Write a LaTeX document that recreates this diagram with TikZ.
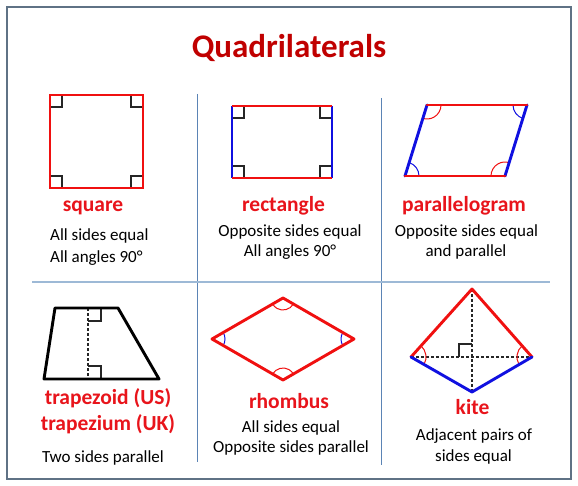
\documentclass[tikz,border=0pt]{standalone}
\usepackage{fontspec}
\setmainfont{Carlito}
\definecolor{titlered}{HTML}{C00000}
\definecolor{labred}{HTML}{E8141B}
\definecolor{shred}{HTML}{F01010}
\definecolor{shblue}{HTML}{1010E0}
\definecolor{frame}{HTML}{5F7285}
\definecolor{divv}{HTML}{5B84B5}
\definecolor{divh}{HTML}{9DB9D6}
\tikzset{
  body/.style={font=\fontsize{17}{21}\selectfont, anchor=base, inner sep=0pt, text=black},
  lab/.style={font=\fontsize{21.5}{26}\selectfont\bfseries, anchor=base, inner sep=0pt, text=labred},
  redline/.style={draw=shred, line width=2.9pt, line cap=round, line join=round},
  blueline/.style={draw=shblue, line width=2.9pt, line cap=round, line join=round},
  blackline/.style={draw=black, line width=2.9pt, line join=round},
  rmark/.style={draw=black!85, line width=1.2pt},
  dashl/.style={draw=black!85, line width=1.2pt, dash pattern=on 3pt off 2pt},
  redarc/.style={draw=shred, line width=1pt},
  bluearc/.style={draw=shblue, line width=1pt}
}
\begin{document}
\begin{tikzpicture}[x=1pt,y=-1pt]
\useasboundingbox (0,0) rectangle (578,486);
% frame and dividers
\draw[frame, line width=1.5pt] (7,7) rectangle (571,479);
\draw[divv, line width=0.8pt] (197,94) -- (197,462);
\draw[divv, line width=0.8pt] (381,98) -- (381,465);
\draw[divh, line width=1.2pt] (32,282) -- (550,282);
% title
\node[anchor=base, inner sep=0pt, font=\fontsize{33}{40}\selectfont\bfseries, text=titlered] (title) at (289,58) {Quadrilaterals};

% square
\draw[rmark] (50,107) -- (62,107) -- (62,95);
\draw[rmark] (143,107) -- (131,107) -- (131,95);
\draw[rmark] (50,176) -- (62,176) -- (62,188);
\draw[rmark] (143,176) -- (131,176) -- (131,188);
\draw[redline, line cap=butt, line join=miter] (50,95) rectangle (143,188);
\node[lab] (sqlab) at (93,212) {square};
\node[body, anchor=base west] (sq1) at (50,241) {All sides equal};
\node[body, anchor=base west] (sq2) at (50,262) {All angles 90°};

% rectangle
\draw[rmark] (232,118) -- (244,118) -- (244,106);
\draw[rmark] (332,118) -- (320,118) -- (320,106);
\draw[rmark] (232,166) -- (244,166) -- (244,178);
\draw[rmark] (332,166) -- (320,166) -- (320,178);
\draw[blueline, line cap=butt] (232,106) -- (232,178);
\draw[blueline, line cap=butt] (332,106) -- (332,178);
\draw[redline, line cap=butt] (232,106) -- (332,106);
\draw[redline, line cap=butt] (232,178) -- (332,178);
\node[lab] (relab) at (283.5,212) {rectangle};
\node[body] (re1) at (290,237) {Opposite sides equal};
\node[body] (re2) at (290,257) {All angles 90°};

% parallelogram
\draw[redarc] (427,105) ++(0:14) arc[start angle=0, end angle=107.2, radius=14];
\draw[bluearc] (527,105) ++(107.2:14) arc[start angle=107.2, end angle=180, radius=14];
\draw[redarc] (505,176) ++(180:14) arc[start angle=180, end angle=287.2, radius=14];
\draw[bluearc] (405,176) ++(287.2:14) arc[start angle=287.2, end angle=360, radius=14];
\draw[blueline] (427,105) -- (405,176);
\draw[blueline] (527,105) -- (505,176);
\draw[redline] (427,105) -- (527,105);
\draw[redline] (405,176) -- (505,176);
\node[lab] (palab) at (464,212) {parallelogram};
\node[body] (pa1) at (466.5,237) {Opposite sides equal};
\node[body] (pa2) at (466,257) {and parallel};

% trapezoid
\draw[dashl] (88,308) -- (88,379);
\draw[rmark] (88,321) -- (101,321) -- (101,308);
\draw[rmark] (88,366) -- (101,366) -- (101,379);
\draw[blackline] (55,308) -- (118,308) -- (159,379) -- (44,379) -- cycle;
\node[lab] (trlab1) at (108,404) {trapezoid (US)};
\node[lab] (trlab2) at (108,430) {trapezium (UK)};
\node[body] (tr1) at (103,462) {Two sides parallel};

% rhombus
\draw[redarc] (283,298) ++(30:12) arc[start angle=30, end angle=150, radius=12];
\draw[redarc] (283,380) ++(210:12) arc[start angle=210, end angle=330, radius=12];
\draw[bluearc] (212,339) ++(-30:13) arc[start angle=-30, end angle=30, radius=13];
\draw[bluearc] (354,339) ++(150:13) arc[start angle=150, end angle=210, radius=13];
\draw[redline] (212,339) -- (283,298) -- (354,339) -- (283,380) -- cycle;
\node[lab] (rhlab) at (289,408) {rhombus};
\node[body] (rh1) at (291,432) {All sides equal};
\node[body] (rh2) at (291,452) {Opposite sides parallel};

% kite
\draw[dashl] (472,289) -- (472,392);
\draw[dashl] (411,357) -- (532,357);
\draw[rmark] (459,357) -- (459,344) -- (472,344);
\draw[redarc] (411,357) ++(-48.1:15) arc[start angle=-48.1, end angle=29.8, radius=15];
\draw[redarc] (532,357) ++(149.7:15) arc[start angle=149.7, end angle=228.6, radius=15];
\draw[redline] (411,357) -- (472,289) -- (532,357);
\draw[blueline] (411,357) -- (472,392) -- (532,357);
\node[lab] (kilab) at (472.5,414) {kite};
\node[body] (ki1) at (474,440) {Adjacent pairs of};
\node[body] (ki2) at (473.5,461) {sides equal};
\end{tikzpicture}
\end{document}
